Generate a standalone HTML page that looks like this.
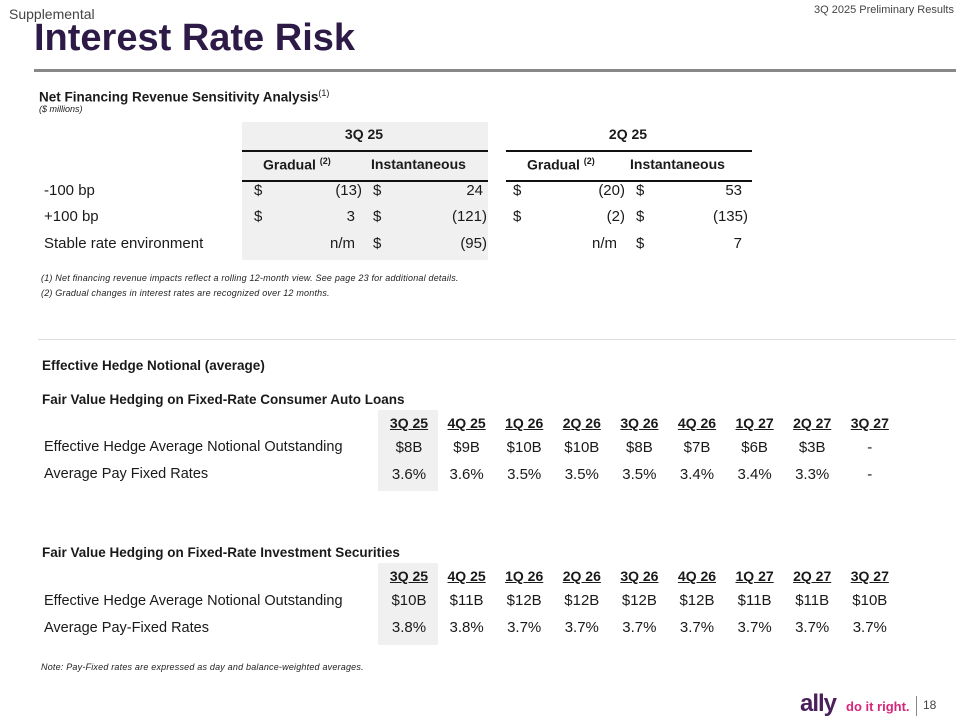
<!DOCTYPE html>
<html><head><meta charset="utf-8"><style>
body{margin:0;width:960px;height:720px;position:relative;background:#fff;font-family:"Liberation Sans",sans-serif;color:#1a1a1a;overflow:hidden}
.a{position:absolute;white-space:nowrap;line-height:1}
.b{font-weight:bold}
.r{text-align:right}
.c{text-align:center}
.v{font-size:15px}
.h{font-size:14px;font-weight:bold;text-decoration:underline}
.fn{font-size:9px;font-style:italic;color:#222;letter-spacing:0.2px}
</style></head><body>
<div class="a" style="left:9px;top:7px;font-size:14px;color:#444">Supplemental</div>
<div class="a" style="right:6px;top:5px;font-size:11px;color:#444">3Q 2025 Preliminary Results</div>
<div class="a b" style="left:34px;top:19px;font-size:38px;color:#2d1a47">Interest Rate Risk</div>
<div class="a" style="left:34px;top:69px;width:922px;height:3px;background:#888"></div>

<div class="a b" style="left:39px;top:89px;font-size:13.5px">Net Financing Revenue Sensitivity Analysis<sup style="font-weight:normal;font-size:9px">(1)</sup></div>
<div class="a" style="left:39px;top:105px;font-size:9px;font-style:italic">($ millions)</div>

<div class="a" style="left:242px;top:122px;width:246px;height:138px;background:#f0f0f0"></div>
<div class="a" style="left:242px;top:150px;width:246px;height:2px;background:#111"></div>
<div class="a" style="left:242px;top:180px;width:246px;height:2px;background:#111"></div>
<div class="a" style="left:506px;top:150px;width:246px;height:2px;background:#111"></div>
<div class="a" style="left:506px;top:180px;width:246px;height:2px;background:#111"></div>

<div class="a b c" style="left:314px;width:100px;top:127px;font-size:14px">3Q 25</div>
<div class="a b c" style="left:578px;width:100px;top:127px;font-size:14px">2Q 25</div>
<div class="a b" style="left:263px;top:157px;font-size:14px">Gradual <sup style="font-size:9px">(2)</sup></div>
<div class="a b" style="left:371px;top:157px;font-size:14px">Instantaneous</div>
<div class="a b" style="left:527px;top:157px;font-size:14px">Gradual <sup style="font-size:9px">(2)</sup></div>
<div class="a b" style="left:630px;top:157px;font-size:14px">Instantaneous</div>

<div class="a v" style="left:44px;top:183px">-100 bp</div>
<div class="a v" style="left:44px;top:209px">+100 bp</div>
<div class="a v" style="left:44px;top:236px">Stable rate environment</div>

<div>
<div class="a v" style="left:254px;top:183px">$</div><div class="a v r" style="right:598px;top:183px">(13)</div>
<div class="a v" style="left:373px;top:183px">$</div><div class="a v r" style="right:477px;top:183px">24</div>
<div class="a v" style="left:513px;top:183px">$</div><div class="a v r" style="right:335px;top:183px">(20)</div>
<div class="a v" style="left:636px;top:183px">$</div><div class="a v r" style="right:218px;top:183px">53</div>
<div class="a v" style="left:254px;top:209px">$</div><div class="a v r" style="right:605px;top:209px">3</div>
<div class="a v" style="left:373px;top:209px">$</div><div class="a v r" style="right:473px;top:209px">(121)</div>
<div class="a v" style="left:513px;top:209px">$</div><div class="a v r" style="right:335px;top:209px">(2)</div>
<div class="a v" style="left:636px;top:209px">$</div><div class="a v r" style="right:212px;top:209px">(135)</div>
<div class="a v r" style="right:605px;top:236px">n/m</div>
<div class="a v" style="left:373px;top:236px">$</div><div class="a v r" style="right:473px;top:236px">(95)</div>
<div class="a v r" style="right:343px;top:236px">n/m</div>
<div class="a v" style="left:636px;top:236px">$</div><div class="a v r" style="right:218px;top:236px">7</div>
</div>

<div class="a fn" style="left:41px;top:274px">(1) Net financing revenue impacts reflect a rolling 12-month view. See page 23 for additional details.</div>
<div class="a fn" style="left:41px;top:289px">(2) Gradual changes in interest rates are recognized over 12 months.</div>

<div class="a" style="left:38px;top:339px;width:918px;height:1px;background:#ddd"></div>
<div class="a b" style="left:42px;top:359px;font-size:13.5px">Effective Hedge Notional (average)</div>

<div class="a b" style="left:42px;top:393px;font-size:13.5px">Fair Value Hedging on Fixed-Rate Consumer Auto Loans</div>
<div class="a" style="left:378px;top:410px;width:60px;height:81px;background:#f0f0f0"></div>
<div class="a" style="left:44px;top:440px;font-size:14.5px">Effective Hedge Average Notional Outstanding</div>
<div class="a" style="left:44px;top:467px;font-size:14.5px">Average Pay Fixed Rates</div>

<div class="a b" style="left:42px;top:546px;font-size:13.5px">Fair Value Hedging on Fixed-Rate Investment Securities</div>
<div class="a" style="left:378px;top:563px;width:60px;height:82px;background:#f0f0f0"></div>
<div class="a" style="left:44px;top:594px;font-size:14.5px">Effective Hedge Average Notional Outstanding</div>
<div class="a" style="left:44px;top:621px;font-size:14.5px">Average Pay-Fixed Rates</div>

<div class="a fn" style="left:41px;top:663px">Note: Pay-Fixed rates are expressed as day and balance-weighted averages.</div>

<div class="a b" style="left:800px;top:692px;font-size:24px;color:#4a1f5c;letter-spacing:-1px">ally</div>
<div class="a b" style="left:846px;top:700px;font-size:13px;color:#d4267a">do it right.</div>
<div class="a" style="left:916px;top:696px;width:1px;height:20px;background:#888"></div>
<div class="a" style="left:923px;top:699px;font-size:12px;color:#444">18</div>

<div id="tables"></div>
<script>
const quarters=["3Q 25","4Q 25","1Q 26","2Q 26","3Q 26","4Q 26","1Q 27","2Q 27","3Q 27"];
const autoNotional=["$8B","$9B","$10B","$10B","$8B","$7B","$6B","$3B","-"];
const autoRates=["3.6%","3.6%","3.5%","3.5%","3.5%","3.4%","3.4%","3.3%","-"];
const secNotional=["$10B","$11B","$12B","$12B","$12B","$12B","$11B","$11B","$10B"];
const secRates=["3.8%","3.8%","3.7%","3.7%","3.7%","3.7%","3.7%","3.7%","3.7%"];
const host=document.getElementById('tables');
function colX(i){return 409+i*57.6;}
function put(txt,x,y,cls,name){
  const d=document.createElement('div');
  d.className='a c '+cls;
  d.style.left=(x-30)+'px';d.style.width='60px';d.style.top=y+'px';
  d.textContent=txt;
  
  
  host.appendChild(d);
}
function table(prefix,y0,notional,rates){
  quarters.forEach((q,i)=>{
    put(q,colX(i),y0,'h',prefix+'-header');
    put(notional[i],colX(i),y0+24,'v',prefix+'-notional');
    put(rates[i],colX(i),y0+51,'v',prefix+'-rate');
  });
}
table('auto',416,autoNotional,autoRates);
table('sec',569,secNotional,secRates);
</script>
</body></html>
